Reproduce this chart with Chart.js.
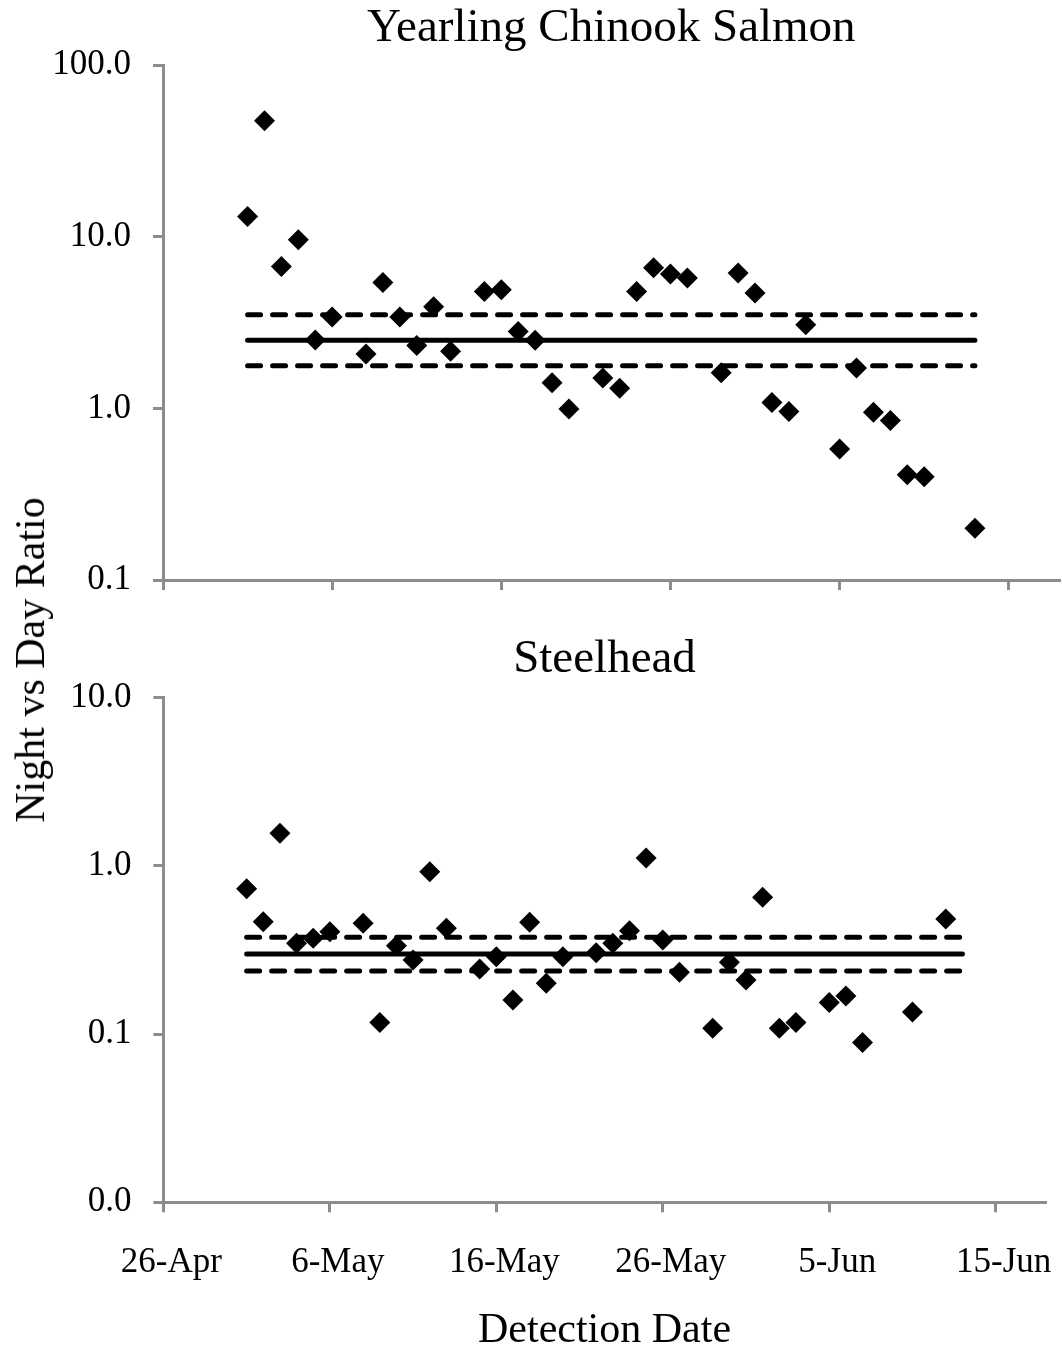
<!DOCTYPE html>
<html>
<head>
<meta charset="utf-8">
<script src="https://cdn.jsdelivr.net/npm/chart.js@4.4.1/dist/chart.umd.min.js"></script>
<style>
  body { margin: 0; background: #fff; }
  #wrap { position: relative; width: 1062px; height: 1352px; overflow: hidden; }
  canvas { position: absolute; left: 0; }
  #top { top: 0; }
  #bottom { top: 630px; }
  #ytitle {
    position: absolute; left: 30px; top: 660px;
    transform: translate(-50%, -50%) rotate(-90deg);
    font: 42px "Liberation Serif", "Times New Roman", serif;
    white-space: nowrap; color: #000;
  }
</style>
</head>
<body>
<div id="wrap">
  <canvas id="top" width="1070" height="623"></canvas>
  <canvas id="bottom" width="1075" height="722"></canvas>
  <div id="ytitle">Night vs Day Ratio</div>
</div>
<script>
// x axis
const xTickLabels = ["26-Apr", "6-May", "16-May", "26-May", "5-Jun", "15-Jun"];
const xEnd = "18-Jun";

// yearling chinook salmon
const chinookDates = ["1-May", "2-May", "3-May", "4-May", "5-May", "6-May", "8-May", "9-May", "10-May",
  "11-May", "12-May", "13-May", "15-May", "16-May", "17-May", "18-May", "19-May", "20-May", "22-May",
  "23-May", "24-May", "25-May", "26-May", "27-May", "29-May", "30-May", "31-May", "1-Jun", "2-Jun",
  "3-Jun", "5-Jun", "6-Jun", "7-Jun", "8-Jun", "9-Jun", "10-Jun", "13-Jun"];
const chinookRatio = [13.1, 47.4, 6.7, 9.6, 2.5, 3.4, 2.07, 5.4, 3.4,
  2.32, 3.9, 2.15, 4.8, 4.9, 2.8, 2.49, 1.41, 0.99, 1.5,
  1.31, 4.8, 6.6, 6.06, 5.74, 1.61, 6.15, 4.7, 1.08, 0.96,
  3.07, 0.58, 1.72, 0.95, 0.85, 0.41, 0.4, 0.2];
const chinookMean = [2.49, 1.77, 3.51]; // mean, lower, upper
const chinookTicks = [0.1, 1, 10, 100];
const chinookTickLabels = ["0.1", "1.0", "10.0", "100.0"];

// steelhead
const steelheadDates = ["1-May", "2-May", "3-May", "4-May", "5-May", "6-May", "8-May", "9-May", "10-May",
  "11-May", "12-May", "13-May", "15-May", "16-May", "17-May", "18-May", "19-May", "20-May", "22-May",
  "23-May", "24-May", "25-May", "26-May", "27-May", "29-May", "30-May", "31-May", "1-Jun", "2-Jun",
  "3-Jun", "5-Jun", "6-Jun", "7-Jun", "10-Jun", "12-Jun"];
const steelheadRatio = [0.73, 0.465, 1.56, 0.346, 0.37, 0.405, 0.455, 0.117, 0.335,
  0.275, 0.92, 0.425, 0.243, 0.288, 0.159, 0.461, 0.2, 0.288, 0.304,
  0.346, 0.41, 1.11, 0.362, 0.233, 0.108, 0.267, 0.209, 0.65, 0.108,
  0.117, 0.154, 0.168, 0.089, 0.135, 0.482];
const steelheadMean = [0.299, 0.237, 0.376];
const steelheadTicks = [0.01, 0.1, 1, 10];
const steelheadTickLabels = ["0.0", "0.1", "1.0", "10.0"];

// lines run over the whole detection period
const lineFrom = "1-May";
const lineTo = "13-Jun";

const serif = '"Liberation Serif", "Times New Roman", serif';
const axisGray = "#8c8c8c";
const monthIdx = { Apr: 3, May: 4, Jun: 5 };

// days after 26-Apr
function dayOf(label) {
  const [d, m] = label.split("-");
  return (Date.UTC(2000, monthIdx[m], +d) - Date.UTC(2000, 3, 26)) / 864e5;
}

function lineSet(y, dash) {
  return {
    data: [{ x: dayOf(lineFrom), y: y }, { x: dayOf(lineTo), y: y }],
    showLine: true,
    borderColor: "#000",
    borderWidth: 5,
    borderDash: dash,
    borderCapStyle: "round",
    pointRadius: 0,
    pointHoverRadius: 0
  };
}

function buildChart(id, c) {
  return new Chart(document.getElementById(id), {
    type: "scatter",
    data: {
      datasets: [
        lineSet(c.mean[0], []),
        lineSet(c.mean[1], [13, 12]),
        lineSet(c.mean[2], [13, 12]),
        {
          data: c.dates.map((d, i) => ({ x: dayOf(d), y: c.values[i] })),
          pointStyle: "rectRot",
          pointRadius: 10.5,
          pointHoverRadius: 10.5,
          backgroundColor: "#000",
          borderColor: "#000",
          borderWidth: 0
        }
      ]
    },
    options: {
      responsive: false,
      animation: false,
      layout: { padding: { left: 0, right: c.padRight, top: 0, bottom: 0 } },
      plugins: {
        legend: { display: false },
        tooltip: { enabled: false },
        title: {
          display: true,
          text: c.title,
          fullSize: false,
          color: "#000",
          font: { family: serif, size: 47, weight: "normal" },
          padding: { top: c.titleTop, bottom: c.titleBottom }
        }
      },
      scales: {
        x: {
          type: "linear",
          min: 0,
          max: dayOf(xEnd),
          afterBuildTicks: (s) => { s.ticks = xTickLabels.map((l) => ({ value: dayOf(l) })); },
          afterFit: (s) => { s.height = c.xHeight; },
          grid: { drawOnChartArea: false, drawTicks: true, tickLength: 10, color: axisGray, lineWidth: 3 },
          border: { color: axisGray, width: 3 },
          ticks: {
            display: c.showX,
            color: "#000",
            font: { family: serif, size: 35 },
            padding: 30,
            labelOffset: 8,
            maxRotation: 0,
            autoSkip: false,
            callback: (v, i) => xTickLabels[i]
          },
          title: {
            display: c.showX,
            text: "Detection Date",
            color: "#000",
            font: { family: serif, size: 42, lineHeight: 1 },
            padding: { top: 0, bottom: 0 }
          }
        },
        y: {
          type: "logarithmic",
          min: c.ticks[0],
          max: c.ticks[c.ticks.length - 1],
          afterBuildTicks: (s) => { s.ticks = c.ticks.map((v) => ({ value: v })); },
          afterFit: (s) => { s.width = c.yWidth; },
          grid: { drawOnChartArea: false, drawTicks: true, tickLength: 10, color: axisGray, lineWidth: 3 },
          border: { color: axisGray, width: 3 },
          ticks: {
            color: "#000",
            font: { family: serif, size: 35 },
            padding: 22,
            autoSkip: false,
            callback: (v, i) => c.tickLabels[i]
          }
        }
      }
    }
  });
}

buildChart("top", {
  title: "Yearling Chinook Salmon",
  dates: chinookDates, values: chinookRatio, mean: chinookMean,
  ticks: chinookTicks, tickLabels: chinookTickLabels,
  titleTop: 0, titleBottom: 8.6, xHeight: 29.5, yWidth: 163, padRight: 2, showX: false
});

buildChart("bottom", {
  title: "Steelhead",
  dates: steelheadDates, values: steelheadRatio, mean: steelheadMean,
  ticks: steelheadTicks, tickLabels: steelheadTickLabels,
  titleTop: 1.8, titleBottom: 9.2, xHeight: 149.7, yWidth: 163.4, padRight: 18, showX: true
});
</script>
</body>
</html>
